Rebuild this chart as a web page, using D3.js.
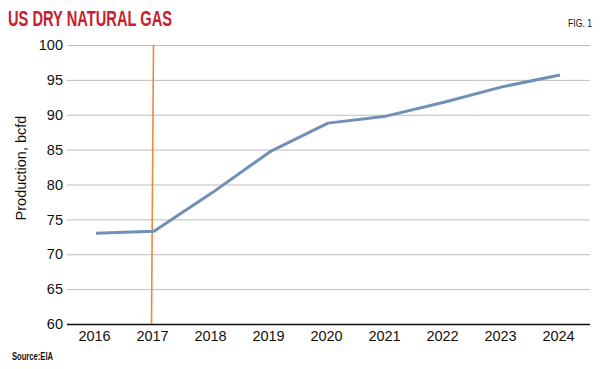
<!DOCTYPE html>
<html><head><meta charset="utf-8">
<script src="https://cdn.jsdelivr.net/npm/d3@7"></script>
<style>body{margin:0;background:#fff}svg{display:block}</style>
</head><body><svg id="c" width="600" height="369"></svg>
<script>
const years = ["2016","2017","2018","2019","2020","2021","2022","2023","2024"];
const production = [73.0, 73.3, 78.8, 84.7, 88.8, 89.8, 91.8, 94.0, 95.7];
const yTicks = [60,65,70,75,80,85,90,95,100];
const markerYear = "2017";

(function(){
const svg = d3.select("#c");
const pLeft = 67, pRight = 590, pTop = 45, pBottom = 324;
const x = d3.scalePoint().domain(years).range([94, 558]);
const y = d3.scaleLinear().domain([60,100]).range([pBottom, pTop]);
const font = "'Liberation Sans', Arial, sans-serif";

// gridlines
svg.append("g").selectAll("line").data(yTicks.filter(d=>d>60)).join("line")
  .attr("x1", pLeft).attr("x2", pRight)
  .attr("y1", d=>y(d)+0.5).attr("y2", d=>y(d)+0.5)
  .attr("stroke", "#bdbdbd").attr("stroke-width", 1);

// y axis labels
const yAxis = d3.axisLeft(y).tickValues(yTicks).tickSize(0).tickPadding(4);
const gy = svg.append("g").attr("transform", `translate(${pLeft},0)`).call(yAxis);
gy.select(".domain").remove();
gy.selectAll("text").attr("font-family", font).attr("font-size", 14.5).attr("fill", "#111");

// x axis
const xAxis = d3.axisBottom(x).tickSize(0).tickPadding(7);
const gx = svg.append("g").attr("transform", `translate(0,${pBottom})`).call(xAxis);
gx.select(".domain").remove();
gx.selectAll("text").attr("font-family", font).attr("font-size", 14.5).attr("fill", "#111");
svg.append("line").attr("x1", pLeft).attr("x2", pRight).attr("y1", pBottom+0.5).attr("y2", pBottom+0.5)
  .attr("stroke", "#111").attr("stroke-width", 1.5);

// marker line
svg.append("line")
  .attr("x1", x(markerYear)+1.5).attr("y1", y(100))
  .attr("x2", x(markerYear)-0.5).attr("y2", y(60))
  .attr("stroke", "#f0873f").attr("stroke-width", 1.6);

// data line
const line = d3.line().x((d,i)=>x(years[i])+2).y(d=>y(d));
svg.append("path").datum(production).attr("d", line)
  .attr("fill", "none").attr("stroke", "#7190b7").attr("stroke-width", 3)
  .attr("stroke-linejoin", "round");

// texts
svg.append("text").attr("x", 8).attr("y", 26).text("US DRY NATURAL GAS")
  .attr("font-family", font).attr("font-weight", "bold").attr("font-size", 22)
  .attr("fill", "#c8202f").attr("textLength", 164).attr("lengthAdjust", "spacingAndGlyphs");
svg.append("text").attr("x", 568).attr("y", 27).text("FIG. 1")
  .attr("font-family", font).attr("font-size", 11.5)
  .attr("fill", "#111").attr("textLength", 24).attr("lengthAdjust", "spacingAndGlyphs");
svg.append("text").attr("transform", "translate(26,168) rotate(-90)")
  .attr("text-anchor", "middle").text("Production, bcfd")
  .attr("font-family", font).attr("font-size", 14.5).attr("fill", "#111");
svg.append("text").attr("x", 12).attr("y", 360).text("Source:EIA")
  .attr("font-family", font).attr("font-weight", "bold").attr("font-size", 10.5)
  .attr("fill", "#111").attr("textLength", 41).attr("lengthAdjust", "spacingAndGlyphs");
})();
</script></body></html>
